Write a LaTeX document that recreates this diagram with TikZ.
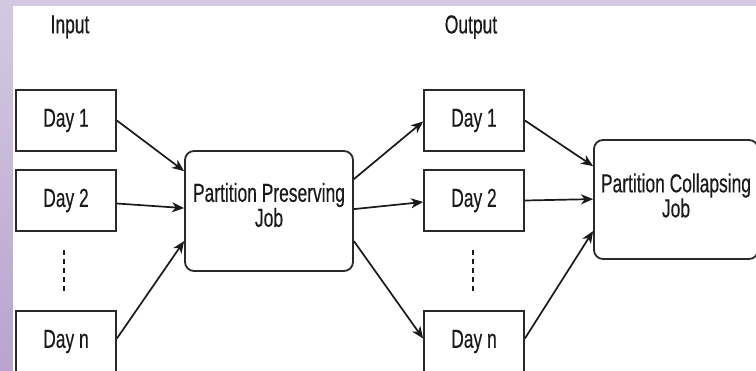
\documentclass[tikz,border=0pt]{standalone}
\usepackage{fontspec}
\usetikzlibrary{arrows.meta,calc}
\newfontfamily\lblfont[FakeStretch=0.67,FakeBold=0.35]{Liberation Sans}

\definecolor{frame}{HTML}{2A2A2A}
\definecolor{ink}{HTML}{1A1A1A}
\definecolor{lilac}{HTML}{D4C9E1}
\definecolor{lilacdeep}{HTML}{B8A4CE}

\tikzset{
  lbl/.style={font=\lblfont\fontsize{26}{25}\selectfont, text=ink},
  daybox/.style={draw=frame, line width=1.8pt, fill=white, minimum width=100pt,
    minimum height=61pt, inner sep=0pt, lbl},
  jobbox/.style={draw=frame, line width=1.8pt, fill=white, rounded corners=9pt,
    inner sep=0pt},
  jobtext/.style={lbl, align=center, inner sep=0pt},
  flow/.style={draw=ink, line width=1.7pt, -{Stealth[length=12pt,width=10pt,inset=3.5pt]}},
  gap/.style={draw=ink, line width=1.4pt, dash pattern=on 5pt off 4pt},
}

\begin{document}
\begin{tikzpicture}[x=1pt, y=-1pt]
  \useasboundingbox (0,0) rectangle (756,370);
  \clip (0,0) rectangle (756,370);

  % page backdrop and white canvas
  \fill[lilac] (0,0) rectangle (756,370);
  \shade[top color=lilac, bottom color=lilacdeep] (0,0) rectangle (13,370);
  \fill[white] (13,6) rectangle (760,375);

  % column headings
  \node[lbl] (hin)  at (70,27)  {Input};
  \node[lbl] (hout) at (471,27) {Output};

  % input partitions
  \node[daybox] (in1) at (66,120.5) {Day 1};
  \node[daybox] (in2) at (66,200.5) {Day 2};
  \node[daybox] (inn) at (66,341.5) {Day n};

  % output partitions
  \node[daybox] (out1) at (474,120.5) {Day 1};
  \node[daybox] (out2) at (474,200.5) {Day 2};
  \node[daybox] (outn) at (474,341.5) {Day n};

  % jobs, captions set a little above centre
  \node[jobbox, minimum width=168pt, minimum height=120pt,
    label={[jobtext, yshift=6pt]center:{Partition Preserving\\Job}}] (ppj) at (269,211) {};
  \node[jobbox, minimum width=164pt, minimum height=119pt,
    label={[jobtext, yshift=4pt]center:{Partition Collapsing\\Job}}] (pcj) at (676,199.5) {};

  % elided partitions
  \coordinate (ga) at (64,250);  \coordinate (gb) at (64,292);
  \coordinate (ha) at (473,250); \coordinate (hb) at (473,292);
  \draw[gap] (ga) -- (gb);
  \draw[gap] (ha) -- (hb);

  % inputs into the preserving job
  \draw[flow] (in1.east) -- ($(ppj.north west)+(0,21)$);
  \draw[flow] ($(in2.east)+(0,3)$) -- ($(ppj.north west)+(0,58)$);
  \draw[flow] ($(inn.east)+(0,-3)$) -- ($(ppj.north west)+(0,91)$);

  % preserving job into output partitions
  \draw[flow] ($(ppj.north east)+(0,29)$) -- ($(out1.west)+(0,1)$);
  \draw[flow] ($(ppj.north east)+(0,59)$) -- ($(out2.west)+(0,1.5)$);
  \draw[flow] ($(ppj.north east)+(0,91)$) -- ($(outn.west)+(0,-3)$);

  % output partitions into the collapsing job
  \draw[flow] (out1.east) -- ($(pcj.north west)+(0,27)$);
  \draw[flow] (out2.east) -- ($(pcj.north west)+(0,60)$);
  \draw[flow] ($(outn.east)+(0,-3)$) -- ($(pcj.north west)+(0,92)$);
\end{tikzpicture}
\end{document}
